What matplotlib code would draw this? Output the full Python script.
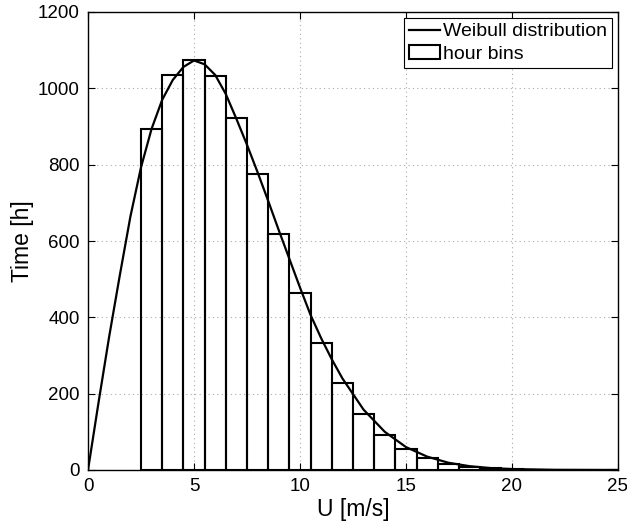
import matplotlib
matplotlib.use("Agg")
import matplotlib.pyplot as plt
from matplotlib.lines import Line2D
from matplotlib.patches import Patch

# Data
bin_centers = [3, 4, 5, 6, 7, 8, 9, 10, 11, 12, 13, 14, 15, 16, 17, 18, 19, 20, 21, 22, 23, 24, 25]
bin_hours = [893, 1035, 1075, 1032, 921, 775, 618, 465, 332, 227, 147, 91, 54, 31, 16, 8, 4, 2, 1, 0.5, 0.3, 0.1, 0.1]

curve_u = [0, 0.5, 1, 1.5, 2, 2.5, 3, 3.5, 4, 4.5, 5, 5.5, 6, 6.5, 7, 7.5, 8, 8.5, 9,
           9.5, 10, 10.5, 11, 11.5, 12, 13, 14, 15, 16, 17, 18, 19, 20, 22, 25]
curve_t = [0, 178, 350, 510, 664, 793, 894, 970, 1022, 1056, 1073, 1063, 1035, 985, 920,
           852, 780, 705, 628, 553, 478, 406, 345, 290, 240, 158, 100, 60, 35, 19, 10, 5, 2.5, 0.5, 0.03]

x_ticks = [0, 5, 10, 15, 20, 25]
y_ticks = [0, 200, 400, 600, 800, 1000, 1200]

plt.rcParams['font.family'] = ['Liberation Sans', 'DejaVu Sans']

fig = plt.figure(figsize=(6.27, 5.30), dpi=100)
ax = fig.add_axes([88/627, 1-470/530, (618-88)/627, (470-12)/530])

ax.plot(curve_u, curve_t, color='black', lw=1.6, zorder=3)
ax.bar(bin_centers, bin_hours, width=1.0, fill=False, edgecolor='black', linewidth=1.5, zorder=2)

ax.set_xlim(0, 25)
ax.set_ylim(0, 1200)
ax.set_xticks(x_ticks)
ax.set_yticks(y_ticks)
ax.tick_params(direction='in', length=5, width=0.8, top=True, right=True, labelsize=13.5, pad=6)
ax.grid(True, color='#aaaaaa', linestyle=(0, (1, 3)), linewidth=0.8, zorder=0)
ax.set_axisbelow(True)
for s in ax.spines.values():
    s.set_linewidth(1.0)

ax.set_xlabel('U [m/s]', fontsize=16.5, labelpad=2)
ax.set_ylabel('Time [h]', fontsize=16.5, labelpad=3)

handles = [Line2D([0], [0], color='black', lw=1.6),
           Patch(facecolor='white', edgecolor='black', linewidth=1.5)]
leg = ax.legend(handles, ['Weibull distribution', 'hour bins'], loc='upper right',
                fontsize=14, frameon=True, fancybox=False, edgecolor='black', framealpha=1,
                borderaxespad=0.3, handlelength=1.6, handletextpad=0.15, borderpad=0.25,
                labelspacing=0.25)
leg.get_frame().set_linewidth(0.8)

fig.savefig('out.png', dpi=100)
